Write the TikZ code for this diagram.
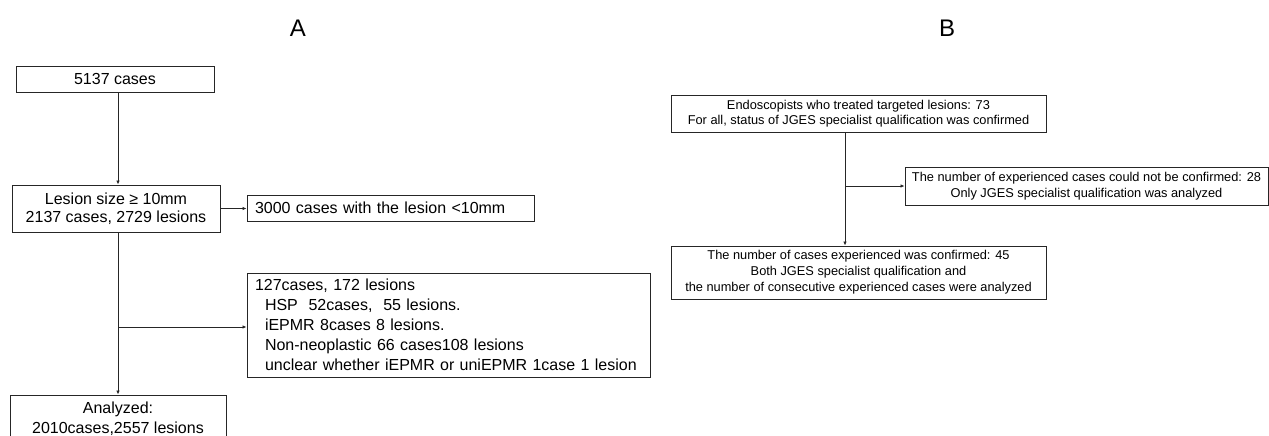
\documentclass[tikz,border=0pt]{standalone}
\usepackage{fontspec}
\setmainfont{Liberation Sans}
\usetikzlibrary{arrows.meta}
\begin{document}
\begin{tikzpicture}[x=1pt,y=-1pt,
  boxA/.style={draw=black!85, line width=0.9pt, inner sep=0pt, align=center, font=\fontsize{16}{20}\selectfont},
  boxB/.style={draw=black!85, line width=0.9pt, inner sep=0pt, align=center, font=\fontsize{12.8}{15.5}\selectfont},
  conn/.style={draw=black!85, line width=0.9pt},
  arr/.style={conn, -{Latex[length=4pt,width=3.5pt]}},
  panel/.style={font=\fontsize{24}{28}\selectfont, anchor=base, inner sep=0pt}]
\useasboundingbox (0,0) rectangle (1269,436);
% panel labels
\node[panel] (labA) at (298,37) {A};
\node[panel] (labB) at (947,37) {B};
% ---- Panel A ----
\node[boxA, minimum width=198pt, minimum height=26pt] (a1) at (115,79) {5137 cases};
\node[boxA, minimum width=208pt, minimum height=47pt, font=\fontsize{16}{18}\selectfont] (a2) at (116,208.5) {Lesion size ≥ 10mm\\2137 cases, 2729 lesions};
\node[boxA, minimum height=26pt, text width=271pt, inner xsep=8pt, align=left] (a3) at (390.5,208) {3000 cases with the lesion <10mm};
\node[boxA, minimum height=104pt, text width=387pt, inner xsep=8pt, align=left] (a4) at (448.5,325) {127cases, 172 lesions\\
\hspace*{10pt}HSP\ \ 52cases,\ \ 55 lesions.\\
\hspace*{10pt}iEPMR 8cases 8 lesions.\\
\hspace*{10pt}Non-neoplastic 66 cases108 lesions\\
\hspace*{10pt}unclear whether iEPMR or uniEPMR 1case 1 lesion};
\node[boxA, minimum width=216pt, minimum height=47pt] (a5) at (118,418.5) {Analyzed:\\2010cases,2557 lesions};
\coordinate (axA) at (118,0);
\coordinate (brA) at (118,327);
\draw[arr] (a1.south -| axA) -- (a2.north -| axA);
\draw[arr] (a2.east) -- (a2.east -| a3.west);
\draw[conn] (a2.south -| axA) -- (brA);
\draw[arr] (brA) -- (a5.north -| axA);
\draw[arr] (brA) -- (brA -| a4.west);
% ---- Panel B ----
\node[boxB, minimum width=375pt, minimum height=37pt] (b1) at (858.5,113.5) {Endoscopists who treated targeted lesions: 73\\For all, status of JGES specialist qualification was confirmed};
\node[boxB, minimum width=363pt, minimum height=38pt] (b2) at (1086.5,186) {The number of experienced cases could not be confirmed: 28\\Only JGES specialist qualification was analyzed};
\node[boxB, minimum width=375pt, minimum height=53pt, font=\fontsize{12.8}{16}\selectfont] (b3) at (858.5,272.5) {The number of cases experienced was confirmed: 45\\Both JGES specialist qualification and\\the number of consecutive experienced cases were analyzed};
\coordinate (axB) at (845,0);
\coordinate (brB) at (845,186);
\draw[conn] (b1.south -| axB) -- (brB);
\draw[arr] (brB) -- (b3.north -| axB);
\draw[arr] (brB) -- (b2.west);
\end{tikzpicture}
\end{document}
